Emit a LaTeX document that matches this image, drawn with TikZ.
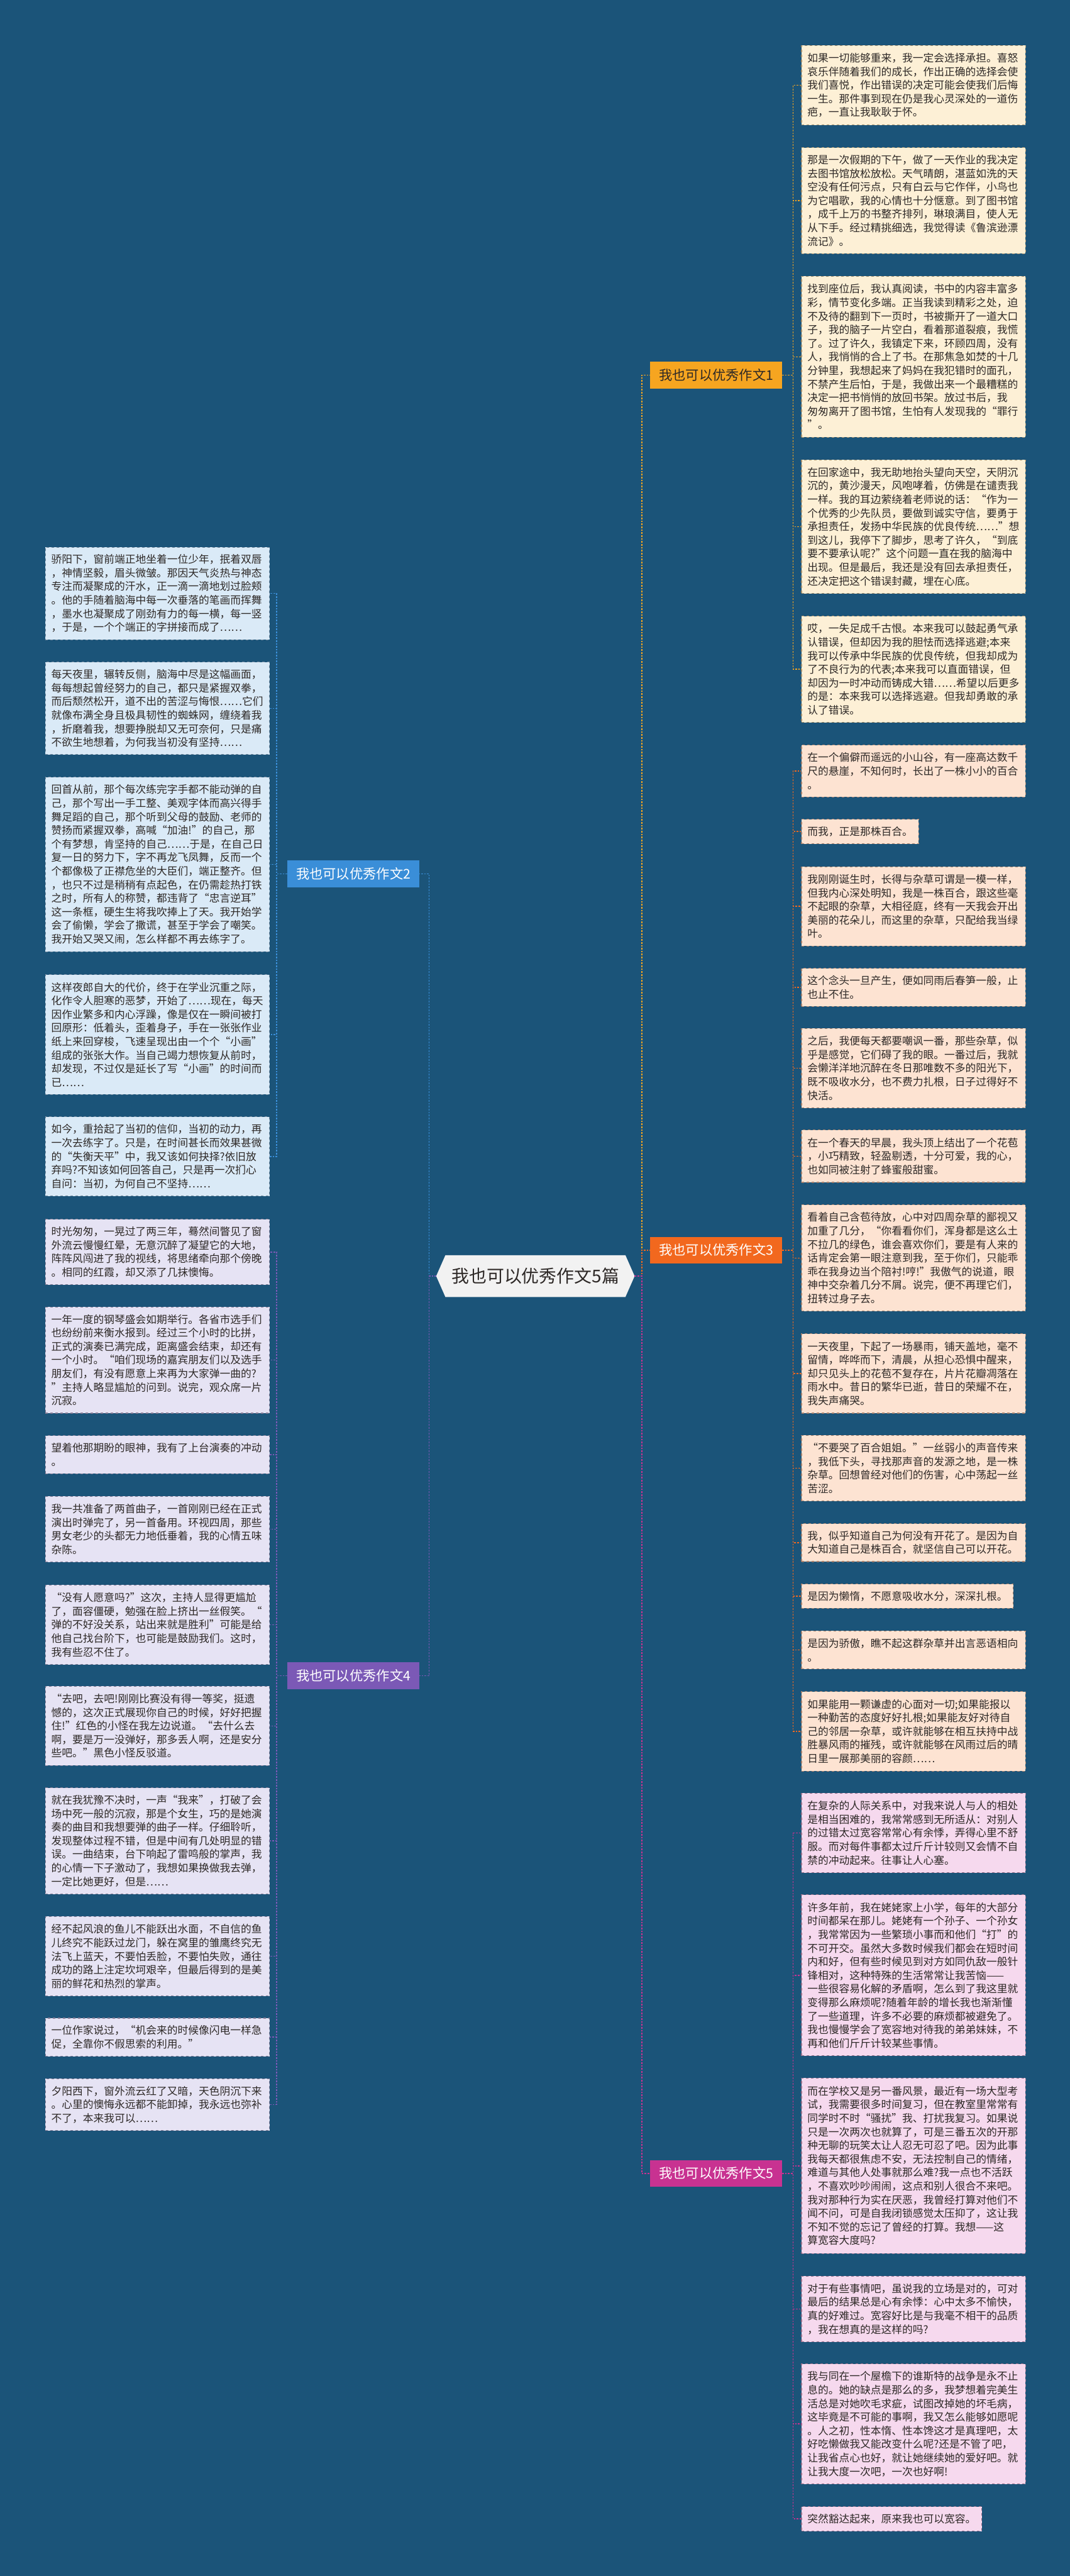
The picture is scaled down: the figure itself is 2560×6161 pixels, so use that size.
\documentclass[tikz,border=0pt]{standalone}
\usepackage{fontspec}
\newfontfamily\cjk{Noto Sans CJK SC}
\usetikzlibrary{backgrounds}
\definecolor{bg}{RGB}{27,84,121}
\definecolor{bA}{RGB}{246,165,32}
\definecolor{bC}{RGB}{242,104,30}
\definecolor{bE}{RGB}{200,50,145}
\definecolor{bB}{RGB}{58,142,216}
\definecolor{bD}{RGB}{123,89,182}
\definecolor{fA}{RGB}{253,240,214}
\definecolor{fC}{RGB}{253,227,210}
\definecolor{fE}{RGB}{246,217,238}
\definecolor{fB}{RGB}{218,234,247}
\definecolor{fD}{RGB}{230,227,244}
\definecolor{cfill}{RGB}{242,242,242}
\definecolor{txt}{RGB}{45,40,38}
\tikzset{
  leafbase/.style={anchor=north west, inner xsep=7pt, align=left, text=txt,
    font=\cjk\fontsize{12.6pt}{16.25pt}\selectfont, dashed, line width=0.8pt},
  wide/.style={text width=254pt},
  leafA/.style={leafbase, fill=fA, draw=bA!45!black!60},
  leafC/.style={leafbase, fill=fC, draw=bC!45!black!60},
  leafE/.style={leafbase, fill=fE, draw=bE!45!black!60},
  leafB/.style={leafbase, fill=fB, draw=bB!45!black!60},
  leafD/.style={leafbase, fill=fD, draw=bD!45!black!60},
  branchbox/.style={minimum width=157.5pt, minimum height=32pt, inner sep=2pt,
    font=\cjk\fontsize{16pt}{19pt}\selectfont, text=white},
  link/.style={line width=1.2pt, dash pattern=on 2pt off 1.5pt},
}
\begin{document}
\begin{tikzpicture}[x=0.5pt,y=-0.5pt]
\begin{scope}[on background layer]
\fill[bg] (0,0) rectangle (2560,6161);
\end{scope}
\useasboundingbox (0,0) rectangle (2560,6161);

% ---------- centre ----------
\node[minimum width=237pt, minimum height=49.5pt, inner sep=0pt, text=txt,
  font=\cjk\fontsize{21pt}{25pt}\selectfont] (center) at (1281,3052) {我也可以优秀作文5篇};
\begin{scope}[on background layer]
\fill[cfill] (center.west) -- ([xshift=11pt]center.north west) -- ([xshift=-11pt]center.north east)
  -- (center.east) -- ([xshift=-11pt]center.south east) -- ([xshift=11pt]center.south west) -- cycle;
\end{scope}

% ---------- branches ----------
\node[branchbox, fill=bA, text=txt] (b1) at (1713.5,897) {我也可以优秀作文1};
\node[branchbox, fill=bC] (b3) at (1713.5,2990) {我也可以优秀作文3};
\node[branchbox, fill=bE] (b5) at (1713.5,5198) {我也可以优秀作文5};
\node[branchbox, fill=bB] (b2) at (845.5,2090) {我也可以优秀作文2};
\node[branchbox, fill=bD] (b4) at (845.5,4008) {我也可以优秀作文4};

% ---------- branch 1 leaves ----------
\node[leafA, wide, minimum height=95pt] (r1a) at (1917,108) {如果一切能够重来，我一定会选择承担。喜怒\\哀乐伴随着我们的成长，作出正确的选择会使\\我们喜悦，作出错误的决定可能会使我们后悔\\一生。那件事到现在仍是我心灵深处的一道伤\\疤，一直让我耿耿于怀。};
\node[leafA, wide, minimum height=127pt] (r1b) at (1917,352) {那是一次假期的下午，做了一天作业的我决定\\去图书馆放松放松。天气晴朗，湛蓝如洗的天\\空没有任何污点，只有白云与它作伴，小鸟也\\为它唱歌，我的心情也十分惬意。到了图书馆\\，成千上万的书整齐排列，琳琅满目，使人无\\从下手。经过精挑细选，我觉得读《鲁滨逊漂\\流记》。};
\node[leafA, wide, minimum height=192.5pt] (r1c) at (1917,660) {找到座位后，我认真阅读，书中的内容丰富多\\彩，情节变化多端。正当我读到精彩之处，迫\\不及待的翻到下一页时，书被撕开了一道大口\\子，我的脑子一片空白，看着那道裂痕，我慌\\了。过了许久，我镇定下来，环顾四周，没有\\人，我悄悄的合上了书。在那焦急如焚的十几\\分钟里，我想起来了妈妈在我犯错时的面孔，\\不禁产生后怕，于是，我做出来一个最糟糕的\\决定一把书悄悄的放回书架。放过书后，我\\匆匆离开了图书馆，生怕有人发现我的“罪行\\”。};
\node[leafA, wide, minimum height=160pt] (r1d) at (1917,1099) {在回家途中，我无助地抬头望向天空，天阴沉\\沉的，黄沙漫天，风咆哮着，仿佛是在谴责我\\一样。我的耳边萦绕着老师说的话：“作为一\\个优秀的少先队员，要做到诚实守信，要勇于\\承担责任，发扬中华民族的优良传统……”想\\到这儿，我停下了脚步，思考了许久，“到底\\要不要承认呢?”这个问题一直在我的脑海中\\出现。但是最后，我还是没有回去承担责任，\\还决定把这个错误封藏，埋在心底。};
\node[leafA, wide, minimum height=127pt] (r1e) at (1917,1473) {哎，一失足成千古恨。本来我可以鼓起勇气承\\认错误，但却因为我的胆怯而选择逃避;本来\\我可以传承中华民族的优良传统，但我却成为\\了不良行为的代表;本来我可以直面错误，但\\却因为一时冲动而铸成大错……希望以后更多\\的是：本来我可以选择逃避。但我却勇敢的承\\认了错误。};

% ---------- branch 3 leaves ----------
\node[leafC, wide, minimum height=62pt] (r3a) at (1917,1781) {在一个偏僻而遥远的小山谷，有一座高达数千\\尺的悬崖，不知何时，长出了一株小小的百合\\。};
\node[leafC, minimum height=29pt] (r3b) at (1917,1959) {而我，正是那株百合。};
\node[leafC, wide, minimum height=95pt] (r3c) at (1917,2072) {我刚刚诞生时，长得与杂草可谓是一模一样，\\但我内心深处明知，我是一株百合，跟这些毫\\不起眼的杂草，大相径庭，终有一天我会开出\\美丽的花朵儿，而这里的杂草，只配给我当绿\\叶。};
\node[leafC, wide, minimum height=45.5pt] (r3d) at (1917,2315) {这个念头一旦产生，便如同雨后春笋一般，止\\也止不住。};
\node[leafC, wide, minimum height=95pt] (r3e) at (1917,2459) {之后，我便每天都要嘲讽一番，那些杂草，似\\乎是感觉，它们碍了我的眼。一番过后，我就\\会懒洋洋地沉醉在冬日那唯数不多的阳光下，\\既不吸收水分，也不费力扎根，日子过得好不\\快活。};
\node[leafC, wide, minimum height=62.5pt] (r3f) at (1917,2702) {在一个春天的早晨，我头顶上结出了一个花苞\\，小巧精致，轻盈剔透，十分可爱，我的心，\\也如同被注射了蜂蜜般甜蜜。};
\node[leafC, wide, minimum height=127pt] (r3g) at (1917,2881) {看着自己含苞待放，心中对四周杂草的鄙视又\\加重了几分，“你看看你们，浑身都是这么土\\不拉几的绿色，谁会喜欢你们，要是有人来的\\话肯定会第一眼注意到我，至于你们，只能乖\\乖在我身边当个陪衬!哼!”我傲气的说道，眼\\神中交杂着几分不屑。说完，便不再理它们，\\扭转过身子去。};
\node[leafC, wide, minimum height=95pt] (r3h) at (1917,3189) {一天夜里，下起了一场暴雨，铺天盖地，毫不\\留情，哗哗而下，清晨，从担心恐惧中醒来，\\却只见头上的花苞不复存在，片片花瓣凋落在\\雨水中。昔日的繁华已逝，昔日的荣耀不在，\\我失声痛哭。};
\node[leafC, wide, minimum height=78.5pt] (r3i) at (1917,3432) {“不要哭了百合姐姐。”一丝弱小的声音传来\\，我低下头，寻找那声音的发源之地，是一株\\杂草。回想曾经对他们的伤害，心中荡起一丝\\苦涩。};
\node[leafC, wide, minimum height=45.5pt] (r3j) at (1917,3643) {我，似乎知道自己为何没有开花了。是因为自\\大知道自己是株百合，就坚信自己可以开花。};
\node[leafC, minimum height=29pt] (r3k) at (1917,3788) {是因为懒惰，不愿意吸收水分，深深扎根。};
\node[leafC, wide, minimum height=45.5pt] (r3l) at (1917,3900) {是因为骄傲，瞧不起这群杂草并出言恶语相向\\。};
\node[leafC, wide, minimum height=95pt] (r3m) at (1917,4045) {如果能用一颗谦虚的心面对一切;如果能报以\\一种勤苦的态度好好扎根;如果能友好对待自\\己的邻居一杂草，或许就能够在相互扶持中战\\胜暴风雨的摧残，或许就能够在风雨过后的晴\\日里一展那美丽的容颜……};

% ---------- branch 5 leaves ----------
\node[leafE, wide, minimum height=95pt] (r5a) at (1917,4288) {在复杂的人际关系中，对我来说人与人的相处\\是相当困难的，我常常感到无所适从：对别人\\的过错太过宽容常常心有余悸，弄得心里不舒\\服。而对每件事都太过斤斤计较则又会情不自\\禁的冲动起来。往事让人心塞。};
\node[leafE, wide, minimum height=192.5pt] (r5b) at (1917,4531) {许多年前，我在姥姥家上小学，每年的大部分\\时间都呆在那儿。姥姥有一个孙子、一个孙女\\，我常常因为一些繁琐小事而和他们“打”的\\不可开交。虽然大多数时候我们都会在短时间\\内和好，但有些时候见到对方如同仇敌一般针\\锋相对，这种特殊的生活常常让我苦恼——\\一些很容易化解的矛盾啊，怎么到了我这里就\\变得那么麻烦呢?随着年龄的增长我也渐渐懂\\了一些道理，许多不必要的麻烦都被避免了。\\我也慢慢学会了宽容地对待我的弟弟妹妹，不\\再和他们斤斤计较某些事情。};
\node[leafE, wide, minimum height=210pt] (r5c) at (1917,4969) {而在学校又是另一番风景，最近有一场大型考\\试，我需要很多时间复习，但在教室里常常有\\同学时不时“骚扰”我、打扰我复习。如果说\\只是一次两次也就算了，可是三番五次的开那\\种无聊的玩笑太让人忍无可忍了吧。因为此事\\我每天都很焦虑不安，无法控制自己的情绪，\\难道与其他人处事就那么难?我一点也不活跃\\，不喜欢吵吵闹闹，这点和别人很合不来吧。\\我对那种行为实在厌恶，我曾经打算对他们不\\闻不问，可是自我闭锁感觉太压抑了，这让我\\不知不觉的忘记了曾经的打算。我想——这\\算宽容大度吗?};
\node[leafE, wide, minimum height=78.5pt] (r5d) at (1917,5443) {对于有些事情吧，虽说我的立场是对的，可对\\最后的结果总是心有余悸：心中太多不愉快，\\真的好难过。宽容好比是与我毫不相干的品质\\，我在想真的是这样的吗?};
\node[leafE, wide, minimum height=143.5pt] (r5e) at (1917,5653) {我与同在一个屋檐下的谁斯特的战争是永不止\\息的。她的缺点是那么的多，我梦想着完美生\\活总是对她吹毛求疵，试图改掉她的坏毛病，\\这毕竟是不可能的事啊，我又怎么能够如愿呢\\。人之初，性本惰、性本馋这才是真理吧，太\\好吃懒做我又能改变什么呢?还是不管了吧，\\让我省点心也好，就让她继续她的爱好吧。就\\让我大度一次吧，一次也好啊!};
\node[leafE, minimum height=29.5pt] (r5f) at (1917,5994) {突然豁达起来，原来我也可以宽容。};

% ---------- branch 2 leaves ----------
\node[leafB, wide, minimum height=110.5pt] (l2a) at (108,1308) {骄阳下，窗前端正地坐着一位少年，抿着双唇\\，神情坚毅，眉头微皱。那因天气炎热与神态\\专注而凝聚成的汗水，正一滴一滴地划过脸颊\\。他的手随着脑海中每一次垂落的笔画而挥舞\\，墨水也凝聚成了刚劲有力的每一横，每一竖\\，于是，一个个端正的字拼接而成了……};
\node[leafB, wide, minimum height=110.5pt] (l2b) at (108,1583) {每天夜里，辗转反侧，脑海中尽是这幅画面，\\每每想起曾经努力的自己，都只是紧握双拳，\\而后颓然松开，道不出的苦涩与悔恨……它们\\就像布满全身且极具韧性的蜘蛛网，缠绕着我\\，折磨着我，想要挣脱却又无可奈何，只是痛\\不欲生地想着，为何我当初没有坚持……};
\node[leafB, wide, minimum height=208.5pt] (l2c) at (108,1858) {回首从前，那个每次练完字手都不能动弹的自\\己，那个写出一手工整、美观字体而高兴得手\\舞足蹈的自己，那个听到父母的鼓励、老师的\\赞扬而紧握双拳，高喊“加油!”的自己，那\\个有梦想，肯坚持的自己……于是，在自己日\\复一日的努力下，字不再龙飞凤舞，反而一个\\个都像极了正襟危坐的大臣们，端正整齐。但\\，也只不过是稍稍有点起色，在仍需趁热打铁\\之时，所有人的称赞，都违背了“忠言逆耳”\\这一条框，硬生生将我吹捧上了天。我开始学\\会了偷懒，学会了撒谎，甚至于学会了嘲笑。\\我开始又哭又闹，怎么样都不再去练字了。};
\node[leafB, wide, minimum height=143.5pt] (l2d) at (108,2330) {这样夜郎自大的代价，终于在学业沉重之际，\\化作令人胆寒的恶梦，开始了……现在，每天\\因作业繁多和内心浮躁，像是仅在一瞬间被打\\回原形：低着头，歪着身子，手在一张张作业\\纸上来回穿梭，飞速呈现出由一个个“小画”\\组成的张张大作。当自己竭力想恢复从前时，\\却发现，不过仅是延长了写“小画”的时间而\\已……};
\node[leafB, wide, minimum height=95pt] (l2e) at (108,2670) {如今，重拾起了当初的信仰，当初的动力，再\\一次去练字了。只是，在时间甚长而效果甚微\\的“失衡天平”中，我又该如何抉择?依旧放\\弃吗?不知该如何回答自己，只是再一次扪心\\自问：当初，为何自己不坚持……};

% ---------- branch 4 leaves ----------
\node[leafD, wide, minimum height=78.5pt] (l4a) at (108,2915) {时光匆匆，一晃过了两三年，蓦然间瞥见了窗\\外流云慢慢红晕，无意沉醉了凝望它的大地，\\阵阵风闯进了我的视线，将思绪牵向那个傍晚\\。相同的红霞，却又添了几抹懊悔。};
\node[leafD, wide, minimum height=127pt] (l4b) at (108,3125) {一年一度的钢琴盛会如期举行。各省市选手们\\也纷纷前来衡水报到。经过三个小时的比拼，\\正式的演奏已满完成，距离盛会结束，却还有\\一个小时。“咱们现场的嘉宾朋友们以及选手\\朋友们，有没有愿意上来再为大家弹一曲的?\\”主持人略显尴尬的问到。说完，观众席一片\\沉寂。};
\node[leafD, wide, minimum height=45.5pt] (l4c) at (108,3433) {望着他那期盼的眼神，我有了上台演奏的冲动\\。};
\node[leafD, wide, minimum height=78.5pt] (l4d) at (108,3578) {我一共准备了两首曲子，一首刚刚已经在正式\\演出时弹完了，另一首备用。环视四周，那些\\男女老少的头都无力地低垂着，我的心情五味\\杂陈。};
\node[leafD, wide, minimum height=95pt] (l4e) at (108,3790) {“没有人愿意吗?”这次，主持人显得更尴尬\\了，面容僵硬，勉强在脸上挤出一丝假笑。“\\弹的不好没关系，站出来就是胜利”可能是给\\他自己找台阶下，也可能是鼓励我们。这时，\\我有些忍不住了。};
\node[leafD, wide, minimum height=95pt] (l4f) at (108,4032) {“去吧，去吧!刚刚比赛没有得一等奖，挺遗\\憾的，这次正式展现你自己的时候，好好把握\\住!”红色的小怪在我左边说道。“去什么去\\啊，要是万一没弹好，那多丢人啊，还是安分\\些吧。”黑色小怪反驳道。};
\node[leafD, wide, minimum height=127pt] (l4g) at (108,4275) {就在我犹豫不决时，一声“我来”，打破了会\\场中死一般的沉寂，那是个女生，巧的是她演\\奏的曲目和我想要弹的曲子一样。仔细聆听，\\发现整体过程不错，但是中间有几处明显的错\\误。一曲结束，台下响起了雷鸣般的掌声，我\\的心情一下子激动了，我想如果换做我去弹，\\一定比她更好，但是……};
\node[leafD, wide, minimum height=95pt] (l4h) at (108,4583) {经不起风浪的鱼儿不能跃出水面，不自信的鱼\\儿终究不能跃过龙门，躲在窝里的雏鹰终究无\\法飞上蓝天，不要怕丢脸，不要怕失败，通往\\成功的路上注定坎坷艰辛，但最后得到的是美\\丽的鲜花和热烈的掌声。};
\node[leafD, wide, minimum height=45.5pt] (l4i) at (108,4826) {一位作家说过，“机会来的时候像闪电一样急\\促，全靠你不假思索的利用。”};
\node[leafD, wide, minimum height=62pt] (l4j) at (108,4971) {夕阳西下，窗外流云红了又暗，天色阴沉下来\\。心里的懊悔永远都不能卸掉，我永远也弥补\\不了，本来我可以……};

% ---------- connectors: centre to branches ----------
\draw[link, bA] (center.east) -- ++(17,0) |- (b1.west);
\draw[link, bC] (center.east) -- ++(17,0) |- (b3.west);
\draw[link, bE] (center.east) -- ++(17,0) |- (b5.west);
\draw[link, bB] (center.west) -- ++(-17,0) |- (b2.east);
\draw[link, bD] (center.west) -- ++(-17,0) |- (b4.east);

% ---------- connectors: branches to leaves ----------
\foreach \n in {r1a,r1b,r1c,r1d,r1e}
  \draw[link, bA] (b1.east) -- ++(26,0) |- (\n.west);
\foreach \n in {r3a,r3b,r3c,r3d,r3e,r3f,r3g,r3h,r3i,r3j,r3k,r3l,r3m}
  \draw[link, bC] (b3.east) -- ++(26,0) |- (\n.west);
\foreach \n in {r5a,r5b,r5c,r5d,r5e,r5f}
  \draw[link, bE] (b5.east) -- ++(26,0) |- (\n.west);
\foreach \n in {l2a,l2b,l2c,l2d,l2e}
  \draw[link, bB] (b2.west) -- ++(-26,0) |- (\n.east);
\foreach \n in {l4a,l4b,l4c,l4d,l4e,l4f,l4g,l4h,l4i,l4j}
  \draw[link, bD] (b4.west) -- ++(-26,0) |- (\n.east);
\end{tikzpicture}
\end{document}
